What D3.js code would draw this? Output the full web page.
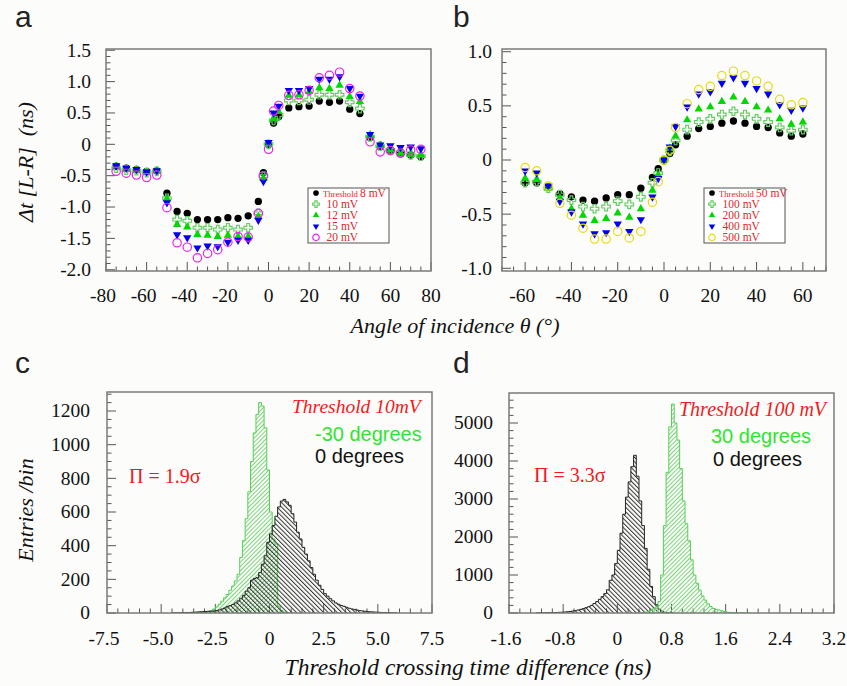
<!doctype html>
<html lang="en">
<head>
<meta charset="UTF-8" />
<title>Threshold crossing time difference vs angle</title>
<style>
  html, body { margin: 0; padding: 0; background: #fcfcfa; }
  svg { display: block; }
  .tick-label { font-family: "Liberation Serif", "DejaVu Serif", serif; font-size: 19.5px; fill: #111; }
  .axis-title { font-family: "Liberation Serif", "DejaVu Serif", serif; font-style: italic; font-size: 22px; fill: #111; }
  .panel-letter { font-family: "Liberation Sans", Arial, sans-serif; font-size: 30px; fill: #222; }
  .legend-text { font-family: "Liberation Serif", "DejaVu Serif", serif; fill: #e02828; }
  .note-red { font-family: "Liberation Serif", "DejaVu Serif", serif; fill: #ee1c1c; }
  .note-sans { font-family: "Liberation Sans", Arial, sans-serif; font-size: 20px; }
</style>
</head>
<body>
<svg id="chart" width="847" height="686"></svg>
<script src="https://cdn.jsdelivr.net/npm/d3@7"></script>
<script>
// ---- panel a: dt[L-R] vs angle, low thresholds ----
const anglesA = [-75, -70, -65, -60, -55, -50, -45, -40, -35, -30, -25, -20, -15, -10, -5, -2.5, 0,
                 2.5, 5, 10, 15, 20, 25, 30, 35, 40, 45, 50, 55, 60, 65, 70, 75];
const a8mV  = [-0.35, -0.38, -0.40, -0.43, -0.42, -0.78, -1.07, -1.10, -1.20, -1.20, -1.20, -1.17, -1.18, -1.14, -0.91, -0.45, 0.00,
               0.34, 0.44, 0.58, 0.60, 0.61, 0.69, 0.67, 0.69, 0.56, 0.49, 0.11, -0.04, -0.10, -0.15, -0.17, -0.20];
const a10mV = [-0.38, -0.41, -0.42, -0.45, -0.43, -0.86, -1.20, -1.22, -1.33, -1.33, -1.36, -1.33, -1.36, -1.33, -1.10, -0.51, 0.00,
               0.38, 0.47, 0.70, 0.70, 0.71, 0.79, 0.79, 0.79, 0.67, 0.57, 0.12, -0.03, -0.09, -0.13, -0.17, -0.19];
const a12mV = [-0.35, -0.40, -0.41, -0.45, -0.42, -0.87, -1.28, -1.32, -1.44, -1.45, -1.47, -1.45, -1.47, -1.47, -1.15, -0.54, 0.00,
               0.41, 0.52, 0.78, 0.79, 0.84, 0.90, 0.89, 0.94, 0.76, 0.68, 0.15, -0.02, -0.09, -0.14, -0.16, -0.17];
const a15mV = [-0.34, -0.38, -0.40, -0.44, -0.42, -0.93, -1.44, -1.49, -1.65, -1.62, -1.63, -1.56, -1.53, -1.53, -1.21, -0.59, 0.03,
               0.50, 0.61, 0.86, 0.86, 0.89, 1.04, 1.04, 1.08, 0.89, 0.77, 0.16, -0.01, -0.02, -0.05, -0.04, -0.07];
const a20mV = [-0.43, -0.46, -0.49, -0.53, -0.49, -1.01, -1.57, -1.64, -1.81, -1.74, -1.68, -1.56, -1.47, -1.48, -1.10, -0.50, -0.08,
               0.53, 0.62, 0.78, 0.79, 0.86, 1.06, 1.10, 1.15, 0.89, 0.77, 0.04, -0.12, -0.10, -0.14, -0.09, -0.08];
const legendA = ["8 mV", "10 mV", "12 mV", "15 mV", "20 mV"];

// ---- panel b: dt[L-R] vs angle, high thresholds ----
const anglesB = [-60, -55, -50, -45, -40, -35, -30, -25, -20, -15, -10, -5, -2.5, 0,
                 2.5, 5, 10, 15, 20, 25, 30, 35, 40, 45, 50, 55, 60];
const b50mV  = [-0.21, -0.21, -0.25, -0.31, -0.34, -0.37, -0.38, -0.35, -0.32, -0.32, -0.26, -0.16, -0.08, 0.00,
                0.06, 0.14, 0.22, 0.29, 0.31, 0.34, 0.36, 0.34, 0.31, 0.30, 0.25, 0.22, 0.24];
const b100mV = [-0.21, -0.20, -0.26, -0.32, -0.37, -0.43, -0.45, -0.43, -0.38, -0.41, -0.34, -0.21, -0.12, 0.00,
                0.08, 0.18, 0.28, 0.35, 0.38, 0.42, 0.45, 0.42, 0.38, 0.35, 0.30, 0.27, 0.28];
const b200mV = [-0.17, -0.18, -0.26, -0.35, -0.45, -0.51, -0.56, -0.54, -0.49, -0.53, -0.45, -0.28, -0.14, 0.00,
                0.11, 0.22, 0.37, 0.47, 0.49, 0.54, 0.58, 0.54, 0.49, 0.46, 0.38, 0.33, 0.35];
const b400mV = [-0.10, -0.12, -0.24, -0.38, -0.48, -0.59, -0.68, -0.67, -0.59, -0.66, -0.55, -0.34, -0.17, 0.00,
                0.12, 0.31, 0.49, 0.61, 0.63, 0.71, 0.76, 0.71, 0.66, 0.61, 0.51, 0.46, 0.48];
const b500mV = [-0.07, -0.10, -0.24, -0.40, -0.51, -0.63, -0.73, -0.73, -0.66, -0.72, -0.66, -0.39, -0.20, 0.00,
                0.09, 0.30, 0.52, 0.65, 0.68, 0.78, 0.82, 0.78, 0.73, 0.68, 0.56, 0.51, 0.53];
const legendB = ["50 mV", "100 mV", "200 mV", "400 mV", "500 mV"];

// ---- panel c: histograms, threshold 10 mV (bin width 0.125 ns) ----
const cBinWidth = 0.125;
const cGreenStart = -4.0;   // -30 degrees
const cGreenCounts = [1, 1, 2, 2, 3, 4, 5, 6, 8, 10, 14, 24, 36, 52, 70, 90, 110, 135, 160, 190,
                      230, 330, 430, 560, 720, 900, 1070, 1180, 1250, 1230, 1100, 850, 600, 440, 410, 40, 15, 5, 2];
const cBlackStart = -4.5;   // 0 degrees
const cBlackCounts = [1, 1, 1, 2, 2, 3, 3, 4, 5, 6, 7, 8, 9, 10, 11, 12, 14, 18, 24, 30,
                      38, 44, 50, 60, 72, 88, 105, 130, 150, 195, 205, 210, 240, 290, 340, 420, 470, 520, 575, 630,
                      665, 675, 660, 640, 590, 540, 480, 440, 390, 350, 310, 270, 230, 195, 165, 140, 115, 100, 85, 72,
                      60, 52, 45, 40, 34, 28, 24, 20, 17, 14, 12, 10, 8, 7, 6, 5, 4, 3, 3, 2, 2, 1, 1];

// ---- panel d: histograms, threshold 100 mV (bin width 0.04 ns) ----
const dBinWidth = 0.04;
const dBlackStart = -1.2;   // 0 degrees
const dBlackCounts = [5, 6, 7, 8, 9, 10, 12, 14, 17, 20, 25, 32, 40, 50, 62, 78, 95, 115, 140, 165,
                      200, 250, 300, 360, 430, 510, 610, 860, 1000, 1300, 1650, 2100, 2600, 3050, 3450, 3850, 4150, 3600, 2950, 2300,
                      1700, 1150, 700, 430, 220, 100, 45, 18, 8, 4, 2];
const dGreenStart = 0.32;   // 30 degrees
const dGreenCounts = [5, 10, 20, 40, 70, 110, 160, 300, 1000, 2300, 3700, 4900, 5500, 5000, 4550, 3800, 2950, 2350, 1900, 1400,
                      1000, 780, 600, 450, 340, 240, 170, 120, 95, 80, 60, 40, 25, 15, 10, 8, 6, 4, 3, 2, 1];

// tick values
const aXTicks = [-80, -60, -40, -20, 0, 20, 40, 60, 80];
const aYTicks = [-2.0, -1.5, -1.0, -0.5, 0, 0.5, 1.0, 1.5];
const bXTicks = [-60, -40, -20, 0, 20, 40, 60];
const bYTicks = [-1.0, -0.5, 0, 0.5, 1.0];
const cXTicks = [-7.5, -5.0, -2.5, 0, 2.5, 5.0, 7.5];
const cYTicks = [0, 200, 400, 600, 800, 1000, 1200];
const dXTicks = [-1.6, -0.8, 0, 0.8, 1.6, 2.4, 3.2];
const dYTicks = [0, 1000, 2000, 3000, 4000, 5000];

const svg = d3.select("#chart");
const defs = svg.append("defs");

const fmt1 = v => (v === 0 ? "0" : v.toFixed(1));
const fmt0 = v => String(v);

function hatch(id, angle, gap, color, w) {
  defs.append("pattern")
      .attr("id", id)
      .attr("patternUnits", "userSpaceOnUse")
      .attr("width", gap).attr("height", gap)
      .attr("patternTransform", `rotate(${angle})`)
    .append("line")
      .attr("x1", 0.5).attr("y1", 0).attr("x2", 0.5).attr("y2", gap)
      .attr("stroke", color).attr("stroke-width", w);
}
hatch("hatch-green", 45, 3.0, "#7bd67b", 1);
hatch("hatch-black", -45, 3.2, "#333", 1);

function makePanel(cfg) {
  const x = d3.scaleLinear().domain(cfg.xDomain).range([cfg.left, cfg.right]);
  const y = d3.scaleLinear().domain(cfg.yDomain).range([cfg.bottom, cfg.top]);
  const g = svg.append("g");

  g.append("clipPath").attr("id", "clip-" + cfg.name)
    .append("rect")
      .attr("x", cfg.left).attr("y", cfg.top)
      .attr("width", cfg.right - cfg.left).attr("height", cfg.bottom - cfg.top);

  // inward ticks on bottom and left
  const stepRange = (dom, step) => {
    const lo = Math.ceil(dom[0] / step - 1e-6), hi = Math.floor(dom[1] / step + 1e-6);
    return d3.range(lo, hi + 1).map(i => i * step);
  };
  const tickG = g.append("g").attr("stroke", "#555").attr("stroke-width", 1);
  stepRange(cfg.xDomain, cfg.xMinor).forEach(v => {
    const major = cfg.xTicks.some(t => Math.abs(t - v) < 1e-6);
    tickG.append("line")
      .attr("x1", x(v)).attr("x2", x(v))
      .attr("y1", cfg.bottom).attr("y2", cfg.bottom - (major ? 9 : 4.5));
  });
  stepRange(cfg.yDomain, cfg.yMinor).forEach(v => {
    const major = cfg.yTicks.some(t => Math.abs(t - v) < 1e-6);
    tickG.append("line")
      .attr("y1", y(v)).attr("y2", y(v))
      .attr("x1", cfg.left).attr("x2", cfg.left + (major ? 9 : 4.5));
  });

  g.selectAll(".xl").data(cfg.xTicks).enter().append("text")
    .attr("class", "tick-label")
    .attr("x", d => x(d) - (d < 0 ? 3 : 0))
    .attr("y", cfg.xLabelY)
    .attr("text-anchor", "middle")
    .text(cfg.xFmt);
  g.selectAll(".yl").data(cfg.yTicks).enter().append("text")
    .attr("class", "tick-label")
    .attr("x", cfg.left - cfg.yLabelGap)
    .attr("y", d => y(d))
    .attr("dy", "0.33em")
    .attr("text-anchor", "end")
    .text(cfg.yFmt);

  const plot = g.append("g").attr("clip-path", `url(#clip-${cfg.name})`);
  const frame = () => g.append("rect")
      .attr("x", cfg.left).attr("y", cfg.top)
      .attr("width", cfg.right - cfg.left).attr("height", cfg.bottom - cfg.top)
      .attr("fill", "none").attr("stroke", "#7a7a7a").attr("stroke-width", 1.5);
  return { x, y, g, plot, frame };
}

// marker styles for the five series of each scatter panel
const markerStyles = [
  { type: d3.symbolCircle,   size: 42, fill: "#000",    stroke: "none",    rot: 0 },
  { type: d3.symbolCross,    size: 40, fill: "none",    stroke: "#66cc66", rot: 0 },
  { type: d3.symbolTriangle, size: 30, fill: "#00d800", stroke: "none",    rot: 0 },
  { type: d3.symbolTriangle, size: 30, fill: "#0000ee", stroke: "none",    rot: 180 },
  { type: d3.symbolCircle,   size: 55, fill: "none",    stroke: null,      rot: 0 }
];

function drawMarkers(sel, st, pts, scale, openColor) {
  sel.selectAll(null).data(pts).enter().append("path")
    .attr("d", d3.symbol().type(st.type).size(st.size * (scale || 1)))
    .attr("transform", d => `translate(${d[0]},${d[1]}) rotate(${st.rot})`)
    .attr("fill", st.fill)
    .attr("stroke", st.stroke === null ? openColor : st.stroke)
    .attr("stroke-width", 1.2);
}

function scatterPanel(cfg, angles, seriesList, legendLabels, openColor, legendBox) {
  const P = makePanel(cfg);
  seriesList.forEach((vals, i) => {
    const pts = angles.map((a, k) => [P.x(a), P.y(vals[k])]);
    drawMarkers(P.plot, markerStyles[i], pts, 1, openColor);
  });
  P.frame();

  // legend
  const lg = P.g.append("g");
  lg.append("rect")
    .attr("x", legendBox.x).attr("y", legendBox.y)
    .attr("width", legendBox.w).attr("height", legendBox.h)
    .attr("fill", "#fff").attr("stroke", "#555").attr("stroke-width", 1);
  legendLabels.forEach((lab, i) => {
    const yy = legendBox.y + 5 + i * 11.1;
    drawMarkers(lg, markerStyles[i], [[legendBox.x + 8, yy]], 0.6, openColor);
    const t = lg.append("text").attr("class", "legend-text")
      .attr("x", legendBox.x + (i === 0 ? 15 : 18.5)).attr("y", yy + 4);
    if (i === 0) t.append("tspan").style("font-size", "8.6px").text("Threshold ");
    t.append("tspan").style("font-size", "11.5px").text(lab);
  });
  return P;
}

function histPath(P, start, width, counts) {
  const pts = [[start, 0]];
  counts.forEach((c, i) => pts.push([start + i * width, c]));
  const end = start + counts.length * width;
  pts.push([end, counts[counts.length - 1]], [end, 0]);
  return d3.line().x(d => P.x(d[0])).y(d => P.y(d[1])).curve(d3.curveStepAfter)(pts);
}

function drawHist(P, start, width, counts, fillId, stroke) {
  P.plot.append("path")
    .attr("d", histPath(P, start, width, counts))
    .attr("fill", `url(#${fillId})`)
    .attr("stroke", stroke).attr("stroke-width", 1);
}

// ---------- panel a ----------
scatterPanel({
  name: "a", left: 106, right: 431, top: 49, bottom: 271,
  xDomain: [-80, 80], yDomain: [-2.02, 1.52],
  xTicks: aXTicks, yTicks: aYTicks, xMinor: 5, yMinor: 0.1,
  xFmt: fmt0, yFmt: fmt1, xLabelY: 302, yLabelGap: 15
}, anglesA, [a8mV, a10mV, a12mV, a15mV, a20mV], legendA, "#ee22ee",
   { x: 308, y: 188, w: 81, h: 55 });

// ---------- panel b ----------
scatterPanel({
  name: "b", left: 502, right: 826, top: 49, bottom: 271,
  xDomain: [-70, 70], yDomain: [-1.025, 1.025],
  xTicks: bXTicks, yTicks: bYTicks, xMinor: 5, yMinor: 0.1,
  xFmt: fmt0, yFmt: fmt1, xLabelY: 302, yLabelGap: 10
}, anglesB, [b50mV, b100mV, b200mV, b400mV, b500mV], legendB, "#e6dc10",
   { x: 704, y: 188, w: 81, h: 55 });

// ---------- panel c ----------
const C = makePanel({
  name: "c", left: 107, right: 432, top: 392, bottom: 613,
  xDomain: [-7.5, 7.5], yDomain: [0, 1313],
  xTicks: cXTicks, yTicks: cYTicks, xMinor: 0.5, yMinor: 50,
  xFmt: fmt1, yFmt: fmt0, xLabelY: 645, yLabelGap: 17
});
drawHist(C, cGreenStart, cBinWidth, cGreenCounts, "hatch-green", "#55d055");
drawHist(C, cBlackStart, cBinWidth, cBlackCounts, "hatch-black", "#222");
C.frame();

// ---------- panel d ----------
const D = makePanel({
  name: "d", left: 509, right: 834, top: 393, bottom: 613,
  xDomain: [-1.6, 3.2], yDomain: [0, 5790],
  xTicks: dXTicks, yTicks: dYTicks, xMinor: 0.16, yMinor: 200,
  xFmt: fmt1, yFmt: fmt0, xLabelY: 645, yLabelGap: 16
});
drawHist(D, dBlackStart, dBinWidth, dBlackCounts, "hatch-black", "#222");
drawHist(D, dGreenStart, dBinWidth, dGreenCounts, "hatch-green", "#55d055");
D.frame();

// ---------- annotations ----------
const letters = [["a", 15, 27], ["b", 453, 27], ["c", 15, 373], ["d", 453, 373]];
letters.forEach(([t, lx, ly]) =>
  svg.append("text").attr("class", "panel-letter").attr("x", lx).attr("y", ly).text(t));

svg.append("text").attr("class", "axis-title")
  .attr("transform", "translate(33,162) rotate(-90)")
  .attr("text-anchor", "middle")
  .attr("xml:space", "preserve")
  .text("\u0394t [L-R]  (ns)");
svg.append("text").attr("class", "axis-title")
  .attr("transform", "translate(33,510) rotate(-90)")
  .attr("text-anchor", "middle")
  .text("Entries /bin");
svg.append("text").attr("class", "axis-title")
  .attr("x", 455).attr("y", 333).attr("text-anchor", "middle")
  .text("Angle of incidence \u03b8 (\u00b0)");
svg.append("text").attr("class", "axis-title")
  .attr("x", 468).attr("y", 675).attr("text-anchor", "middle")
  .style("font-size", "23.5px")
  .text("Threshold crossing time difference (ns)");

// panel c notes
svg.append("text").attr("class", "note-red").style("font-style", "italic").style("font-size", "19.5px")
  .attr("x", 292).attr("y", 413).text("Threshold 10mV");
svg.append("text").attr("class", "note-sans").attr("fill", "#2ee62e")
  .attr("x", 315).attr("y", 441).text("-30 degrees");
svg.append("text").attr("class", "note-sans").attr("fill", "#111")
  .attr("x", 315).attr("y", 463).text("0 degrees");
svg.append("text").attr("class", "note-red").style("font-size", "20px")
  .attr("x", 129).attr("y", 483).text("\u03a0 = 1.9\u03c3");

// panel d notes
svg.append("text").attr("class", "note-red").style("font-style", "italic").style("font-size", "20px")
  .attr("x", 679).attr("y", 416).text("Threshold 100 mV");
svg.append("text").attr("class", "note-sans").attr("fill", "#2ee62e")
  .attr("x", 711).attr("y", 443).text("30 degrees");
svg.append("text").attr("class", "note-sans").attr("fill", "#111")
  .attr("x", 713).attr("y", 466).text("0 degrees");
svg.append("text").attr("class", "note-red").style("font-size", "20px")
  .attr("x", 534).attr("y", 482).text("\u03a0 = 3.3\u03c3");
</script>
</body>
</html>
